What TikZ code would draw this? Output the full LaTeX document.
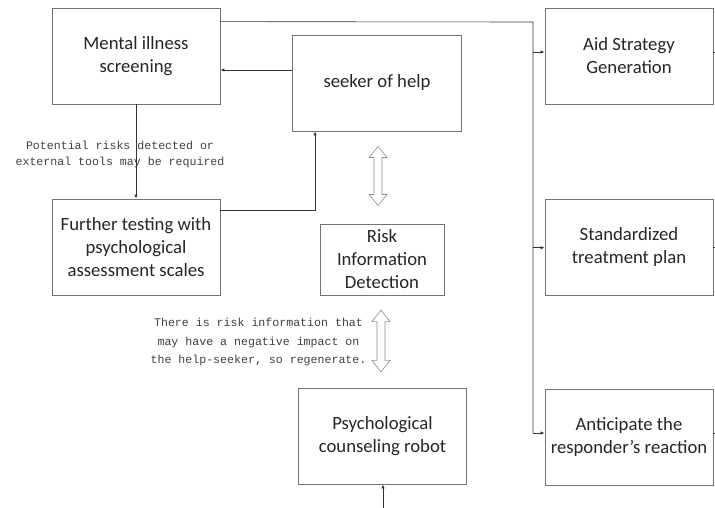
\documentclass[tikz,border=0pt]{standalone}
\usepackage{fontspec}
\setmainfont{Carlito}
\newfontfamily\labelfont{Liberation Mono}
\usetikzlibrary{arrows.meta}
\begin{document}
\begin{tikzpicture}[x=1pt,y=-1pt,
  block/.style={draw=black!55, line width=0.7pt, fill=white,
    minimum width=168pt, minimum height=96pt, align=center, inner sep=0pt,
    font=\fontsize{18.7}{23}\selectfont, text=black!85},
  link/.style={draw=black!80, line width=0.6pt},
  tip/.style={-{Latex[length=4pt,width=3.2pt]}},
  note/.style={align=center, text=black!75, inner sep=0pt},
  hollowarrow/.pic={
    \draw[draw=black!45, line width=0.6pt, fill=white]
      (0,-29.5) -- (9,-18.5) -- (4,-18.5) -- (4,18.5) -- (9,18.5) -- (0,29.5)
      -- (-9,18.5) -- (-4,18.5) -- (-4,-18.5) -- (-9,-18.5) -- cycle;
  }
]
\useasboundingbox (0,0) rectangle (715,508);

% boxes
\node[block] (screen) at (136,56) {Mental illness\\screening};
\node[block, minimum width=169pt] (seeker) at (377,83) {seeker of help};
\node[block] (further) at (136,247) {Further testing with\\psychological\\assessment scales};
\node[block, minimum width=124pt, minimum height=71pt] (risk) at (382,259.5) {Risk\\Information\\Detection};
\node[block] (robot) at (382.5,436) {Psychological\\counseling robot};
\node[block] (aid) at (629,56) {Aid Strategy\\Generation};
\node[block] (plan) at (629,247) {Standardized\\treatment plan};
\node[block] (react) at (629,437) {Anticipate the\\responder's reaction};

% helper points
\coordinate (bus) at (533,22);
\coordinate (aidin) at ([yshift=4pt]aid.west);
\coordinate (planin) at ([yshift=-0.7pt]plan.west);
\coordinate (reactin) at ([yshift=4pt]react.west);
\coordinate (seekout) at ([yshift=13pt]seeker.west);
\coordinate (furtherout) at ([yshift=37pt]further.east);
\coordinate (seekin) at ([xshift=-62pt]seeker.south);
\coordinate (feed) at (383,508);
\coordinate (edge) at (715,0);

% distribution bus to the right column
\draw[link] ([yshift=-14pt]screen.north east) -- (bus) -- (bus |- reactin);
\draw[link,tip] (bus |- aidin) -- (aidin);
\draw[link,tip] (bus |- planin) -- (planin);
\draw[link,tip] (bus |- reactin) -- (reactin);

% outgoing stubs on the right
\draw[link] (aid.east |- aidin) -- (edge |- aidin);
\draw[link] (plan.east |- planin) -- (edge |- planin);
\draw[link] (react.east |- reactin) -- (edge |- reactin);

% left loop
\draw[link,tip] (seekout) -- (seekout -| screen.east);
\draw[link,tip] (screen.south) -- (further.north);
\draw[link,tip] (furtherout) -- (furtherout -| seekin) -- (seekin);

% input to the robot
\draw[link,tip] (feed) -- (feed |- robot.south);

% two-way exchanges
\pic at (378,176) {hollowarrow};
\pic[yscale=1.05] at (381,341) {hollowarrow};

% notes
\node[note, font=\labelfont\fontsize{11.6}{16}\selectfont] (risknote) at (120,155)
  {Potential risks detected or\\external tools may be required};
\node[note, font=\labelfont\fontsize{11.6}{18.5}\selectfont] (regennote) at (258.5,342)
  {There is risk information that\\may have a negative impact on\\the help-seeker, so regenerate.};
\end{tikzpicture}
\end{document}
